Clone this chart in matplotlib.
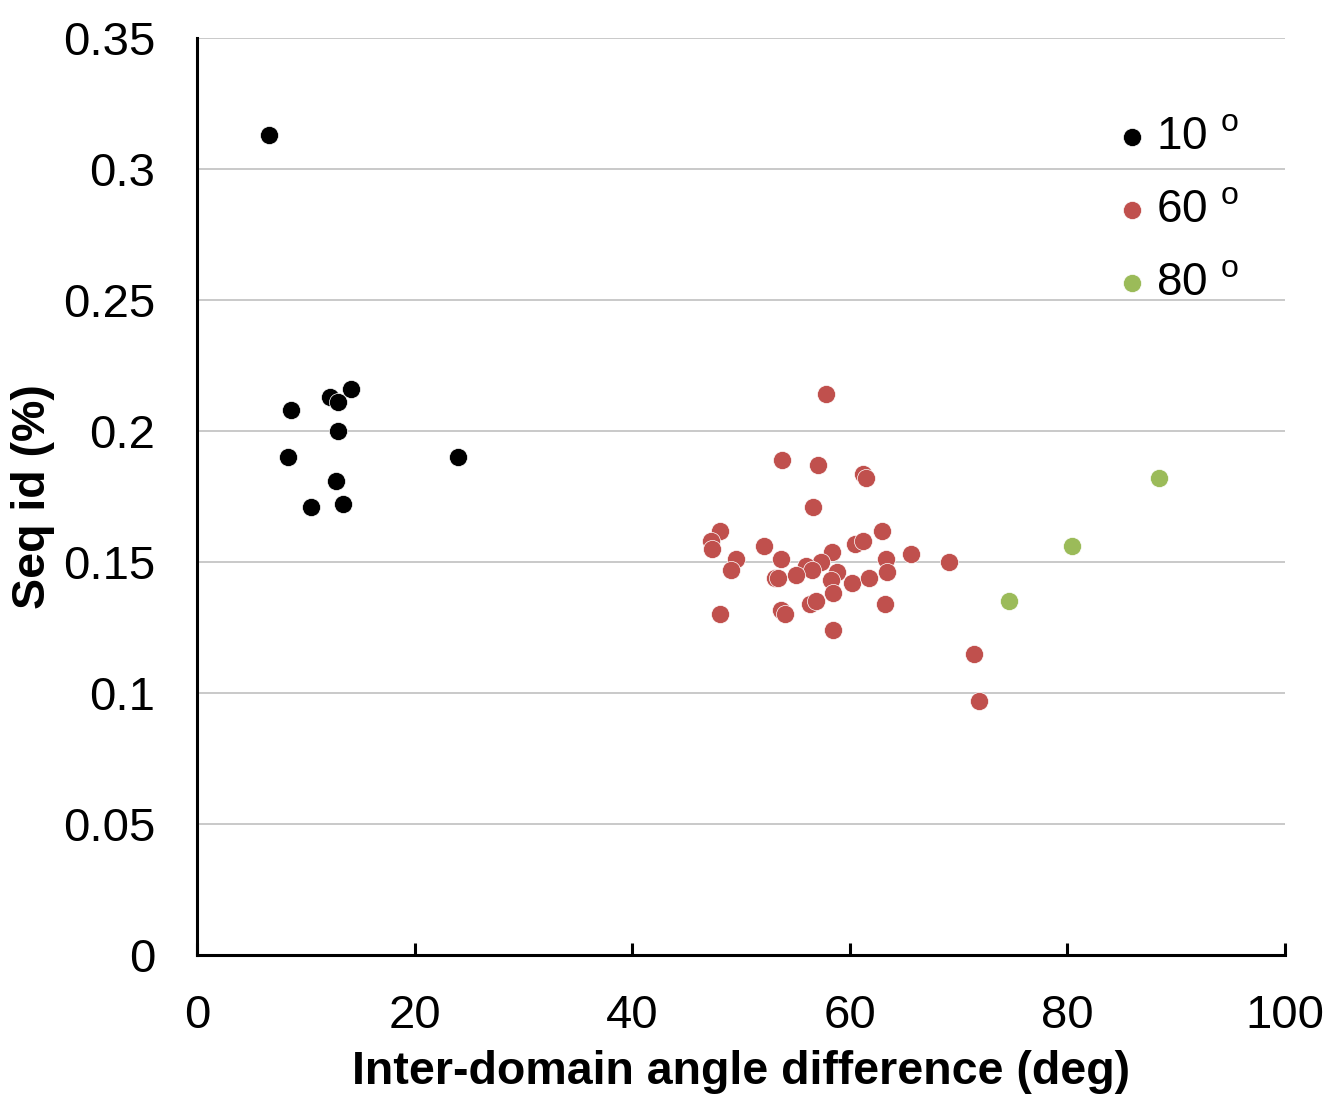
import numpy as np
import matplotlib
matplotlib.use("Agg")
import matplotlib.pyplot as plt

plt.rcParams['font.family'] = ['Liberation Sans', 'DejaVu Sans']
plt.rcParams['mathtext.fontset'] = 'custom'
plt.rcParams['mathtext.rm'] = 'Liberation Sans'

# 10 degree group
x10 = [6.65, 8.6, 12.2, 13.0, 14.2, 13.0, 8.4, 24.0, 12.8, 10.5, 13.4]
y10 = [0.313, 0.208, 0.213, 0.211, 0.216, 0.200, 0.190, 0.190, 0.181, 0.171, 0.172]

# 60 degree group
x60 = [57.8, 53.8, 57.1, 61.2, 61.5, 56.6, 48.1, 47.2, 47.3, 52.1, 63.0,
       60.5, 61.2, 49.5, 49.1, 53.7, 58.4, 57.4, 56.0, 56.5, 53.1, 53.4,
       55.1, 58.8, 58.3, 60.2, 61.8, 63.3, 63.4, 65.6, 69.1, 58.5, 56.3,
       56.9, 53.7, 54.0, 48.1, 63.2, 58.5, 71.4, 71.9]
y60 = [0.214, 0.189, 0.187, 0.1835, 0.182, 0.171, 0.162, 0.158, 0.155, 0.156, 0.162,
       0.157, 0.158, 0.151, 0.147, 0.151, 0.154, 0.150, 0.1485, 0.147, 0.144, 0.144,
       0.145, 0.146, 0.143, 0.142, 0.144, 0.151, 0.146, 0.153, 0.150, 0.138, 0.134,
       0.135, 0.1317, 0.130, 0.130, 0.134, 0.124, 0.115, 0.097]

# 80 degree group
x80 = [74.6, 80.4, 88.4]
y80 = [0.135, 0.156, 0.182]

labels = ['10 $^{\\mathregular{o}}$', '60 $^{\\mathregular{o}}$', '80 $^{\\mathregular{o}}$']
colors = ['#000000', '#c0504d', '#9bbb59']

fig = plt.figure(figsize=(13.29, 10.98), dpi=100)
ax = fig.add_axes([0.1482, 0.1302, 0.8187, 0.8352])

ax.set_xlim(0, 100)
ax.set_ylim(0, 0.35)
ax.set_yticks([0, 0.05, 0.1, 0.15, 0.2, 0.25, 0.3, 0.35])
ax.set_yticklabels(['0', '0.05', '0.1', '0.15', '0.2', '0.25', '0.3', '0.35'])
ax.set_xticks([0, 20, 40, 60, 80, 100])
ax.grid(axis='y', color='#c0c0c0', lw=1.2)
ax.set_axisbelow(True)

for s in ['top', 'right']:
    ax.spines[s].set_visible(False)
for s in ['left', 'bottom']:
    ax.spines[s].set_linewidth(2.2)

ax.tick_params(axis='x', direction='in', length=9, width=2.2, labelsize=34, pad=28)
ax.tick_params(axis='y', length=0, labelsize=34, pad=30)

for xs, ys, c, lab in zip([x10, x60, x80], [y10, y60, y80], colors, labels):
    ax.scatter(xs, ys, s=170, color=c, edgecolors='white', linewidths=0.5, label=lab, zorder=3)

ax.set_xlabel('Inter-domain angle difference (deg)', fontsize=33.5, fontweight='bold', va='center')
ax.set_ylabel('Seq id (%)', fontsize=33.5, fontweight='bold', va='center')
ax.xaxis.set_label_coords(0.5, -0.1276)
ax.yaxis.set_label_coords(-0.1507, 0.4995)

leg = ax.legend(loc='upper right', bbox_to_anchor=(1257 / 1329, 1 - 97 / 1098),
                bbox_transform=fig.transFigure, frameon=False, fontsize=33,
                handlelength=1.0, handletextpad=0.02, labelspacing=0.63,
                markerscale=1.0, borderaxespad=0)

fig.savefig('out.png', dpi=100)
